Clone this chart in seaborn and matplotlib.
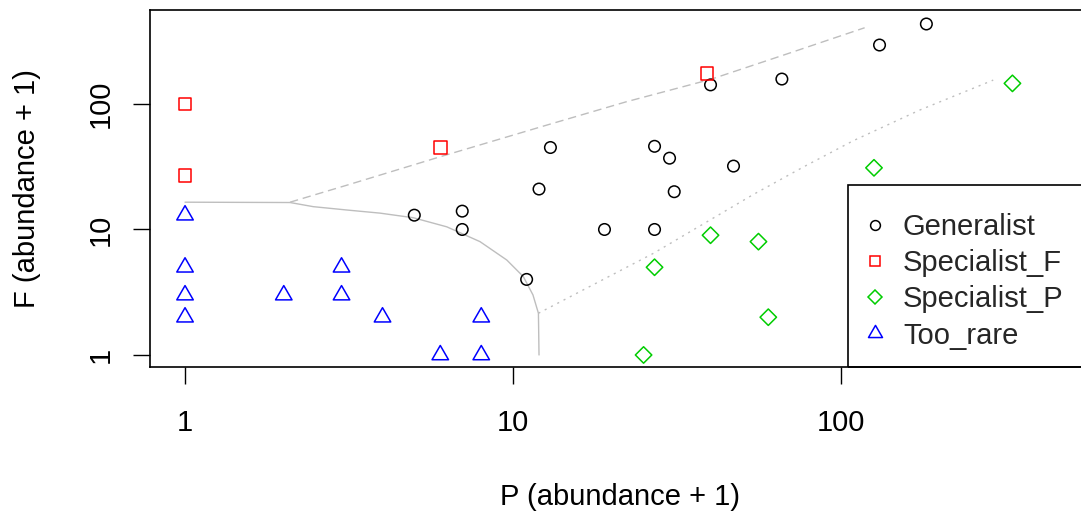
import numpy as np
import pandas as pd
import matplotlib
matplotlib.use("Agg")
import matplotlib.pyplot as plt
import seaborn as sns
from matplotlib.lines import Line2D
from matplotlib.patches import Rectangle
from matplotlib.path import Path
from matplotlib.ticker import FixedLocator, NullLocator, FixedFormatter

# ---------------- data ----------------
categories = ["Generalist", "Specialist_F", "Specialist_P", "Too_rare"]

gen_P = [5, 7, 7, 11, 12, 13, 19, 27, 30, 31, 27, 40, 47, 66, 131, 182]
gen_F = [13, 14, 10, 4, 21, 45, 10, 46, 37, 20, 10, 142, 32, 158, 295, 434]

spF_P = [1, 1, 6, 39]
spF_F = [100, 27, 45, 175]

spP_P = [333, 126, 40, 56, 27, 60, 25]
spP_F = [146, 31, 9, 8, 5, 2, 1]

rare_P = [1, 1, 1, 1, 2, 3, 3, 4, 8, 6, 8]
rare_F = [13, 5, 3, 2, 3, 5, 3, 2, 2, 1, 1]

# boundary lines
solid_P = [1, 2.09, 2.46, 3.11, 3.93, 4.97, 6.28, 7.93, 9.57, 10.75, 11.5, 11.95, 12.0]
solid_F = [16.5, 16.4, 15.2, 14.3, 13.5, 12.4, 10.5, 8.0, 5.71, 4.21, 3.01, 2.15, 1.0]

upper_P = [2.09, 3.16, 6.0, 12.7, 22.1, 40.0, 67, 118]
upper_F = [16.5, 22.8, 38.0, 68, 104, 157, 246, 405]

lower_P = [11.95, 26.8, 54, 76.8, 109, 174, 291]
lower_F = [2.15, 6.46, 19.0, 31.5, 51.0, 89.6, 155]

x_ticks = [1, 10, 100]
y_ticks = [1, 10, 100]
tick_labels = ["1", "10", "100"]

# ---------------- style ----------------
sns.set_theme(style="white")
plt.rcParams['font.family'] = ['Liberation Sans', 'DejaVu Sans']

colors = {"Generalist": "black", "Specialist_F": "#FF0000",
          "Specialist_P": "#00CD00", "Too_rare": "#0000FF"}
tri = Path([(0, 1), (-0.866, -0.5), (0.866, -0.5), (0, 1)], closed=True)
markers = {"Generalist": "o", "Specialist_F": "s", "Specialist_P": "D", "Too_rare": tri}
sizes = {"Generalist": 69, "Specialist_F": 81, "Specialist_P": 70, "Too_rare": 188}

groups = {
    "Generalist": (gen_P, gen_F),
    "Specialist_F": (spF_P, spF_F),
    "Specialist_P": (spP_P, spP_F),
    "Too_rare": (rare_P, rare_F),
}

fig = plt.figure(figsize=(10.81, 5.14), dpi=100)
ax = fig.add_axes([150 / 1081, 147 / 514, 940 / 1081, 357 / 514])
ax.set_xscale("log")
ax.set_yscale("log")

line_col = "#BEBEBE"
sns.lineplot(x=solid_P, y=solid_F, sort=False, estimator=None, ax=ax,
             color=line_col, lw=1.0, linestyle="-")
sns.lineplot(x=upper_P, y=upper_F, sort=False, estimator=None, ax=ax,
             color=line_col, lw=1.0, linestyle=(0, (6, 3.5)))
sns.lineplot(x=lower_P, y=lower_F, sort=False, estimator=None, ax=ax,
             color=line_col, lw=1.0, linestyle=(0, (1.5, 3.6)))

for cat in categories:
    P, F = groups[cat]
    df = pd.DataFrame({"P": P, "F": F})
    sns.scatterplot(data=df, x="P", y="F", ax=ax, marker=markers[cat],
                    s=sizes[cat], facecolor="none", edgecolor=colors[cat],
                    linewidth=1.1, legend=False, zorder=3)

ax.set_xlim(0.782, 574)
ax.set_ylim(0.802, 561)

ax.xaxis.set_major_locator(FixedLocator(x_ticks))
ax.xaxis.set_major_formatter(FixedFormatter(tick_labels))
ax.yaxis.set_major_locator(FixedLocator(y_ticks))
ax.yaxis.set_major_formatter(FixedFormatter(tick_labels))
ax.xaxis.set_minor_locator(NullLocator())
ax.yaxis.set_minor_locator(NullLocator())

ax.tick_params(axis="both", which="major", direction="out", length=12.5,
               width=1.0, color="black", labelsize=21, labelcolor="black",
               bottom=True, left=True)
ax.tick_params(axis="x", pad=17.5)
ax.tick_params(axis="y", pad=13.2)
for lab in ax.get_yticklabels():
    lab.set_rotation(90)
    lab.set_va("center")

for sp in ax.spines.values():
    sp.set_color("black")
    sp.set_linewidth(1.2)

ax.set_xlabel("P (abundance + 1)", fontsize=21, color="black")
ax.set_ylabel("F (abundance + 1)", fontsize=21, color="black")
ax.xaxis.label.set_va("center")
ax.yaxis.label.set_va("center")
ax.xaxis.set_label_coords(0.5, (367 - 497) / 357)
ax.yaxis.set_label_coords((27.5 - 150) / 940, 0.5)

# legend frame (R-style box at bottom right)
ax.add_patch(Rectangle(((848 - 150) / 940, 0), 1 - (848 - 150) / 940, (367 - 185) / 357,
                       transform=ax.transAxes, fill=False, ec="black", lw=1.2,
                       clip_on=False, zorder=4))
handles = [Line2D([], [], linestyle="none", marker=markers[c],
                  markersize=np.sqrt(sizes[c]) * 0.85, markerfacecolor="none",
                  markeredgecolor=colors[c], markeredgewidth=1.1) for c in categories]
ax.legend(handles, categories, loc="upper left",
          bbox_to_anchor=((860.4 - 150) / 940, (367 - 213) / 357),
          bbox_transform=ax.transAxes, frameon=False, borderpad=0, borderaxespad=0,
          handlelength=1.0, handletextpad=0.46, labelspacing=0.28, fontsize=21)

fig.savefig("out.png", dpi=100)
